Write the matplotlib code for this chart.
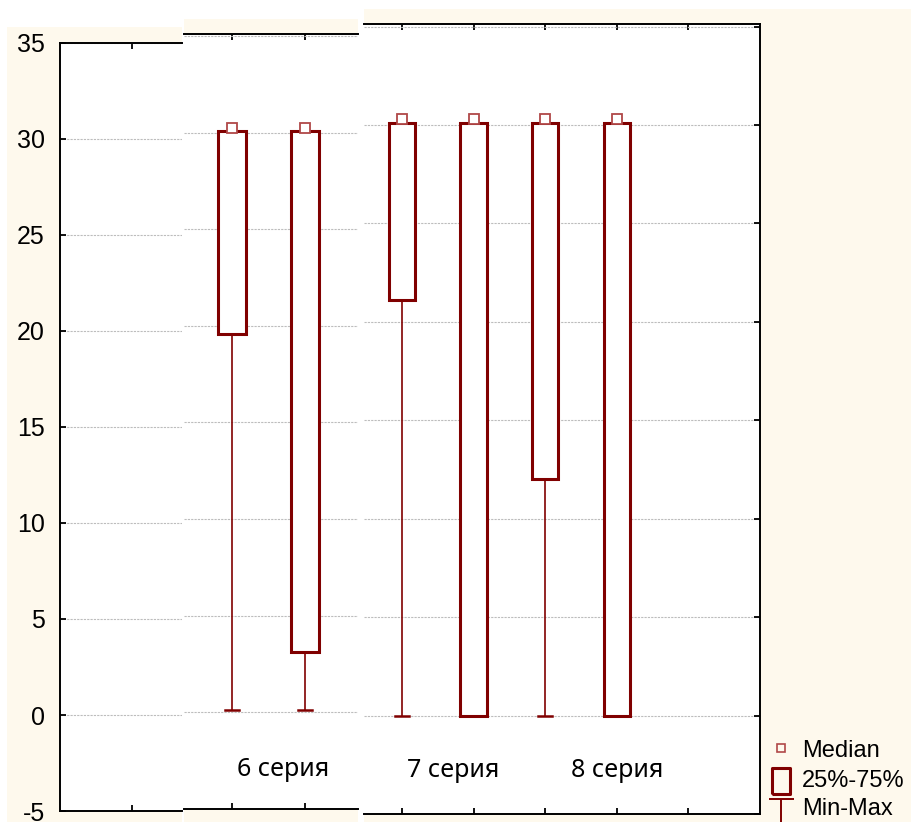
import matplotlib
matplotlib.use('Agg')
import matplotlib.pyplot as plt
from matplotlib.patches import Rectangle
from matplotlib.lines import Line2D
from matplotlib.path import Path

plt.rcParams['axes.unicode_minus'] = False

# box-plot values (three pasted pieces of one Statistica chart)
s6_pos = [1, 2]
s6_min = [0.1, 0.1]
s6_q1 = [19.6, 3.1]
s6_q3 = [30.1, 30.1]
s6_max = [30.1, 30.1]
s6_med = [30.25, 30.25]

s78_pos = [1, 2, 3, 4]
s78_min = [0.0, 0.0, 0.0, 0.0]
s78_q1 = [21.1, 0.0, 12.0, 0.0]
s78_q3 = [30.1, 30.1, 30.1, 30.1]
s78_max = [30.1, 30.1, 30.1, 30.1]
s78_med = [30.3, 30.3, 30.3, 30.3]

series_labels = ['6 серия', '7 серия', '8 серия']
legend_labels = ['Median', '25%-75%', 'Min-Max']
yticks = [-5, 0, 5, 10, 15, 20, 25, 30, 35]

W, H = 911, 822
CREAM = '#fef9ed'
RED = '#800000'
MEDC = '#b04848'

fig = plt.figure(figsize=(W / 100, H / 100), dpi=100)
fig.patch.set_facecolor('white')


def frac(x0, y0, x1, y1):
    return [x0 / W, 1 - y1 / H, (x1 - x0) / W, (y1 - y0) / H]


def cream(x0, y0, x1, y1):
    fig.add_artist(Rectangle((x0 / W, 1 - y1 / H), (x1 - x0) / W, (y1 - y0) / H,
                             transform=fig.transFigure, facecolor=CREAM,
                             edgecolor='none', zorder=0))


def style(ax, xlim, ylim, xt, left=False, right=False, labels=False):
    ax.set_xlim(*xlim)
    ax.set_ylim(*ylim)
    ax.set_facecolor('white')
    for side in ['top', 'bottom', 'left', 'right']:
        ax.spines[side].set_visible(False)
    ax.spines['top'].set_visible(True)
    ax.spines['bottom'].set_visible(True)
    ax.spines['left'].set_visible(left)
    ax.spines['right'].set_visible(right)
    for sp in ax.spines.values():
        sp.set_linewidth(1.4)
        sp.set_color('black')
    ax.set_xticks(xt)
    ax.set_xticklabels([])
    ax.tick_params(axis='x', which='both', direction='in', top=True, bottom=True,
                   length=4, width=1.3)
    ax.set_yticks(yticks)
    ax.tick_params(axis='y', direction='in', left=left, right=right,
                   labelleft=labels, labelright=False, length=4, width=1.3,
                   labelsize=18, pad=11)
    if labels:
        for t in ax.get_yticklabels():
            t.set_family('Liberation Sans')
    ax.set_axisbelow(True)
    ax.yaxis.grid(True, color='#bdbdbd', linestyle=(0, (2, 1)), linewidth=0.8)


def boxes(ax, pos, mn, q1, q3, mx, med, w=0.37, cap=0.1):
    for x, a, b, c, d, m in zip(pos, mn, q1, q3, mx, med):
        ax.plot([x, x], [a, b], color=RED, lw=1.2, zorder=2)
        ax.plot([x - cap, x + cap], [a, a], color=RED, lw=1.8, zorder=2)
        ax.plot([x, x], [c, d], color=RED, lw=1.2, zorder=2)
        ax.add_patch(Rectangle((x - w / 2, b), w, c - b, facecolor='white',
                               edgecolor=RED, lw=2.2, zorder=3))
        ax.plot(x, m, marker='s', ms=7, mfc='white', mec=MEDC, mew=1.3,
                zorder=4, clip_on=False)


# piece 1: left axis with labels
cream(7, 27, 182, 822)
ax1 = fig.add_axes(frac(60, 43, 182, 811))
style(ax1, (0, 122 / 72), (-5, 35), [1], left=True, labels=True)

# piece 2: 6 серия
cream(184, 19, 358, 822)
ax2 = fig.add_axes(frac(184, 34, 358, 809))
style(ax2, (1 - 48 / 73, 2 + 53 / 73), (-4.85, 35.1), [1, 2])
boxes(ax2, s6_pos, s6_min, s6_q1, s6_q3, s6_max, s6_med)
ax2.text(1.70, -2.95, series_labels[0], ha='center', va='center',
         fontsize=18, family='Noto Sans')

# piece 3: 7 and 8 серия with right axis
cream(364, 9, 911, 822)
ax3 = fig.add_axes(frac(364, 24, 760, 814))
style(ax3, (1 - 38 / 71.75, 6), (-4.97, 35.13), [1, 2, 3, 4, 5], right=True)
boxes(ax3, s78_pos, s78_min, s78_q1, s78_q3, s78_max, s78_med)
ax3.text(1.72, -2.8, series_labels[1], ha='center', va='center',
         fontsize=18, family='Noto Sans')
ax3.text(4.0, -2.8, series_labels[2], ha='center', va='center',
         fontsize=18, family='Noto Sans')

# legend keys drawn by hand in the cream margin
rect_marker = Path([(-0.35, -0.5), (0.35, -0.5), (0.35, 0.5), (-0.35, 0.5), (-0.35, -0.5)])
t_marker = Path([(-0.5, 0.5), (0.5, 0.5), (0, 0.5), (0, -0.5)],
                [Path.MOVETO, Path.LINETO, Path.MOVETO, Path.LINETO])
keys = [
    dict(marker='s', ms=5.5, mfc='none', mec=MEDC, mew=1.2),
    dict(marker=rect_marker, ms=19, mfc='none', mec=RED, mew=2.2),
    dict(marker=t_marker, ms=18, mfc='none', mec=RED, mew=1.4),
]
key_y = [748, 781, 811]
text_y = [751, 781, 809]
for lab, k, ky, ty in zip(legend_labels, keys, key_y, text_y):
    fig.add_artist(Line2D([781 / W], [1 - ky / H], transform=fig.transFigure,
                          linestyle='none', **k))
    fig.text(802 / W, 1 - ty / H, lab, ha='left', va='center', fontsize=17,
             family='Liberation Sans')

fig.savefig('out.png', dpi=100, facecolor='white')
